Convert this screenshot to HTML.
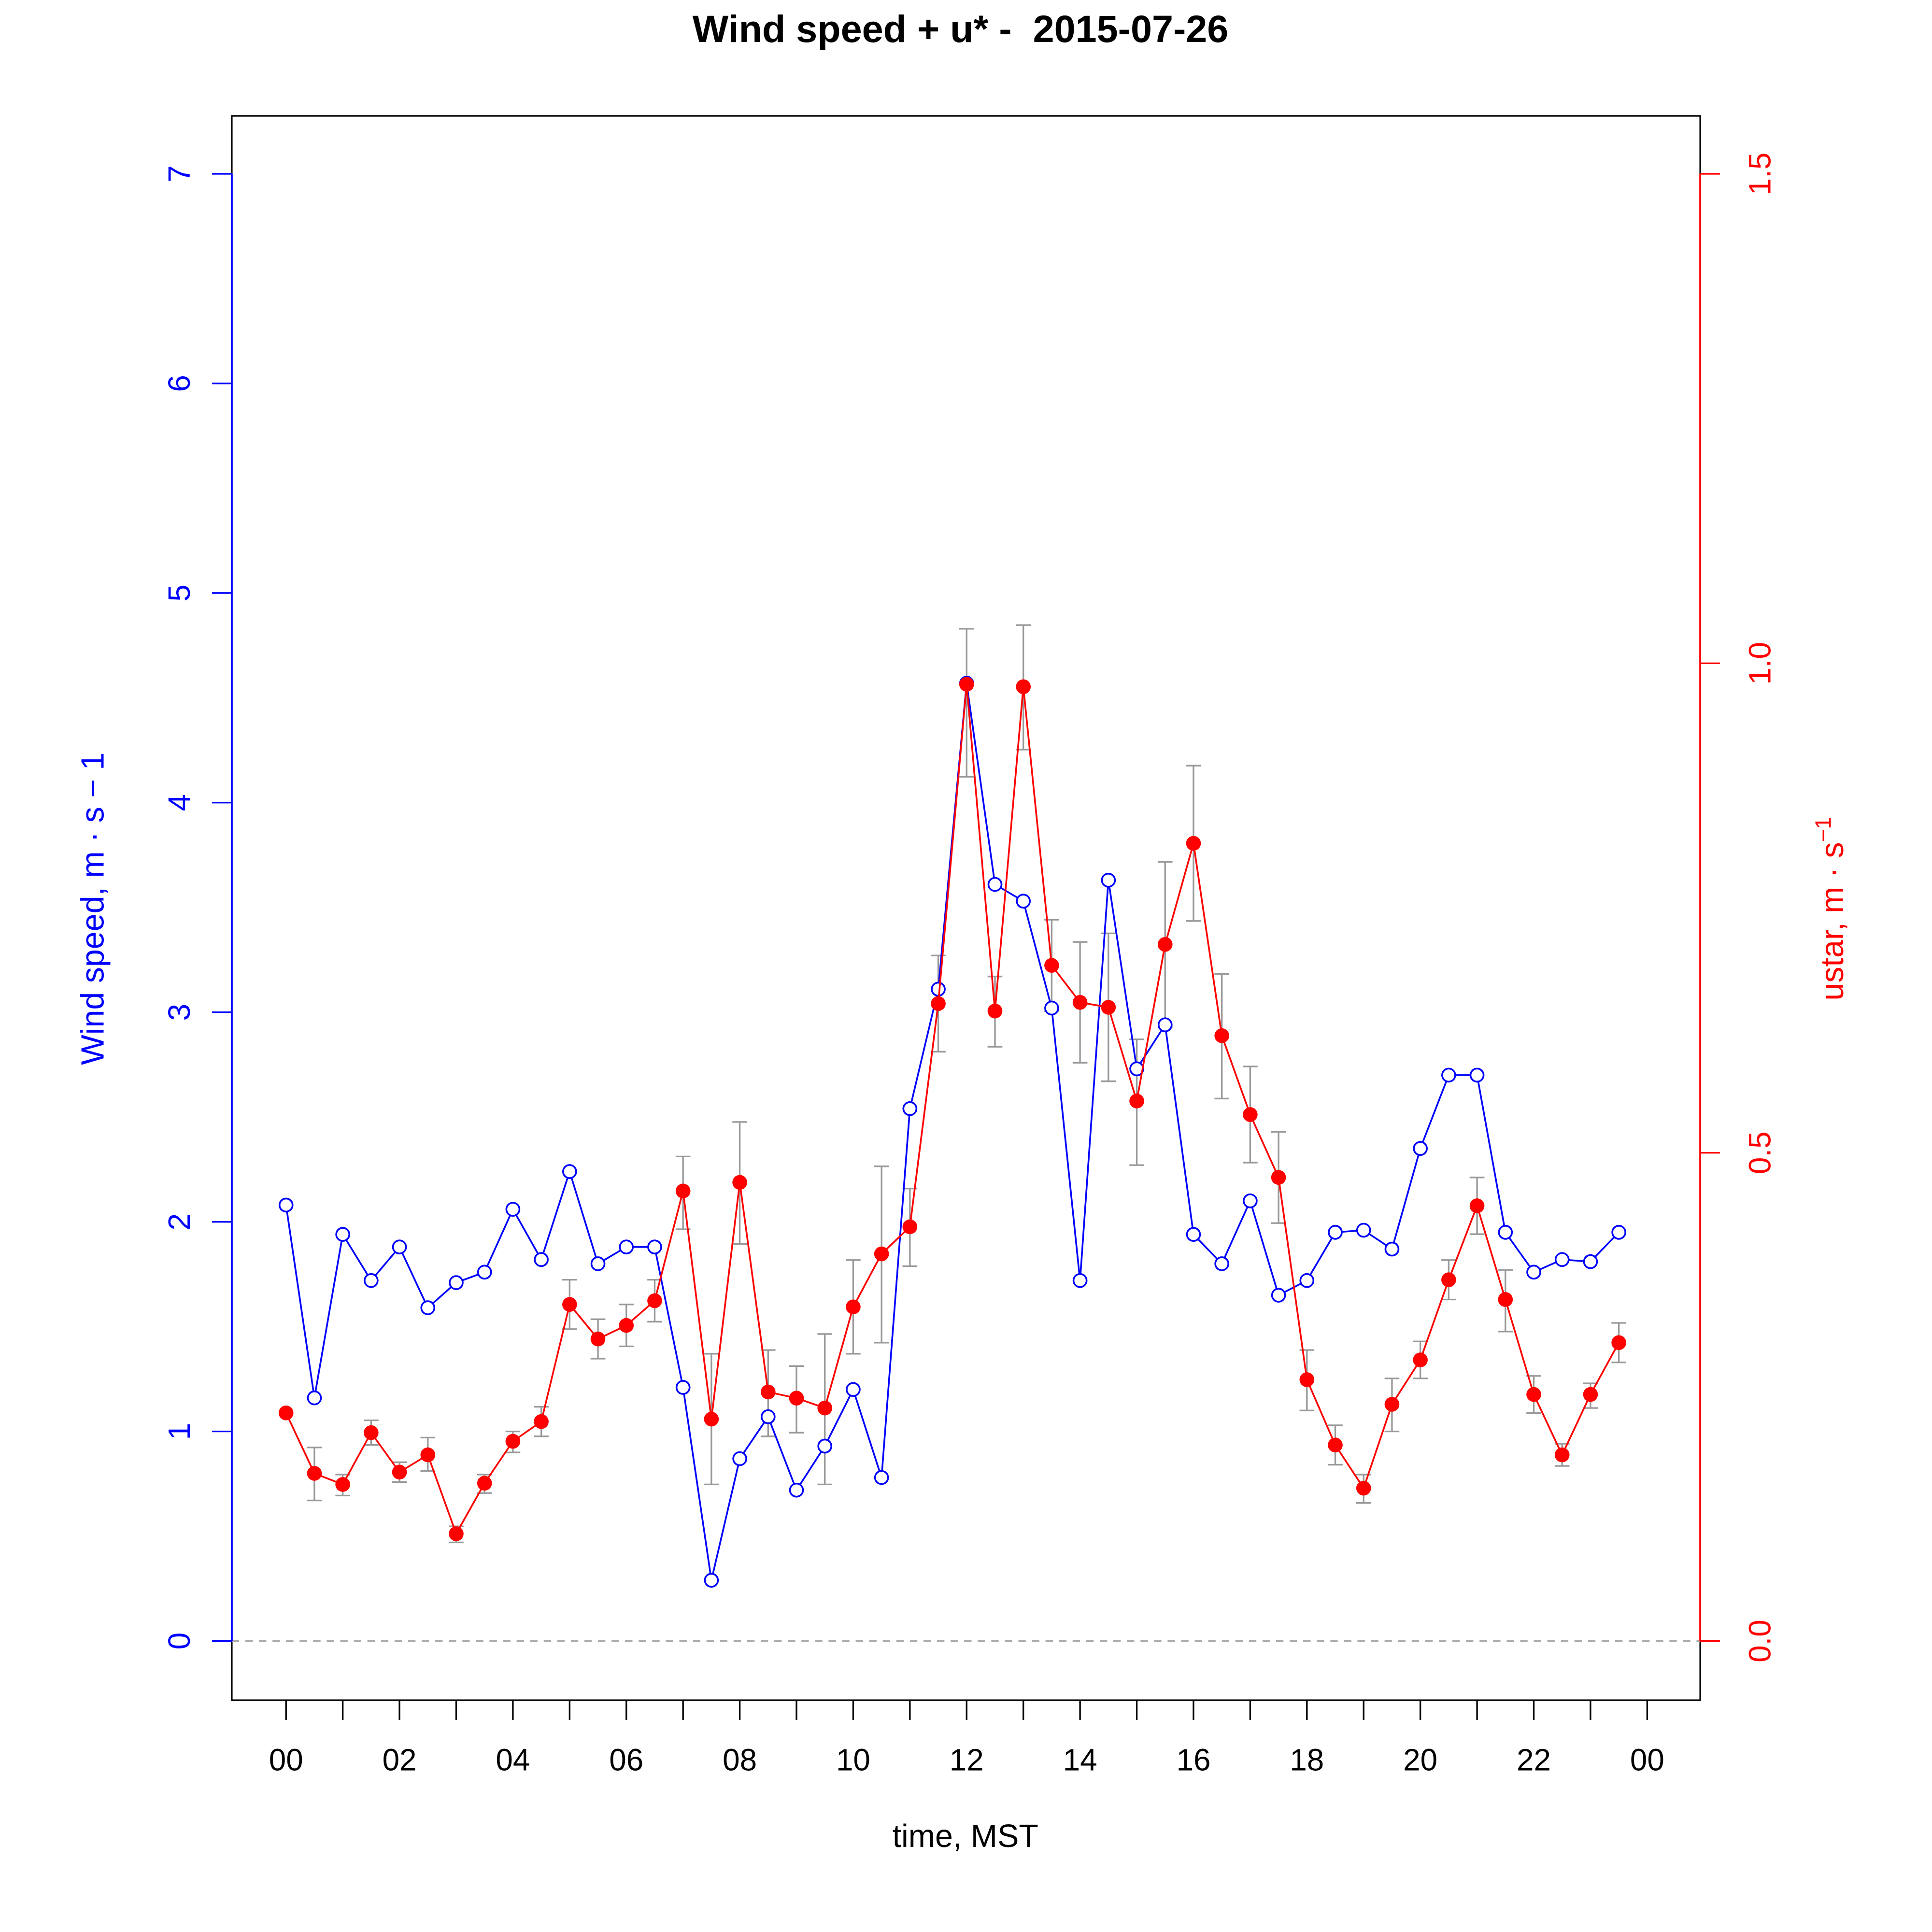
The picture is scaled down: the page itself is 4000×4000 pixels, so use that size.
<!DOCTYPE html>
<html><head><meta charset="utf-8"><style>html,body{margin:0;padding:0;background:#fff}svg{display:block}</style></head>
<body>
<svg id="s" xmlns="http://www.w3.org/2000/svg" width="4000" height="4000" viewBox="0 0 1567 1567" font-family="Liberation Sans, Arial, sans-serif">
<rect width="1567" height="1567" fill="#fff"/>
<text x="779" y="34" font-size="31" font-weight="bold" text-anchor="middle" xml:space="preserve">Wind speed + u* -  2015-07-26</text>
<rect x="188" y="94" width="1191" height="1285" fill="none" stroke="#000" stroke-width="1.3"/>
<line x1="188" y1="1331" x2="1379" y2="1331" stroke="#aaa" stroke-width="1.3" stroke-dasharray="6,5"/>
<g id="axes"></g>
<g id="err" stroke="#999" stroke-width="1.3"></g>
<g id="blue"></g>
<g id="red"></g>
<text x="783" y="1498" font-size="26" text-anchor="middle">time, MST</text>
<text transform="translate(84,737) rotate(-90)" font-size="26" fill="#00f" text-anchor="middle">Wind speed, m · s − 1</text>
<text transform="translate(1495,737) rotate(-90)" font-size="26" fill="#f00" text-anchor="middle">ustar, m · s<tspan dy="-10" font-size="18">−1</tspan></text>
<g font-size="25" fill="#00f" text-anchor="middle">
<text transform="translate(154,1331) rotate(-90)">0</text>
<text transform="translate(154,1161) rotate(-90)">1</text>
<text transform="translate(154,991) rotate(-90)">2</text>
<text transform="translate(154,821) rotate(-90)">3</text>
<text transform="translate(154,651) rotate(-90)">4</text>
<text transform="translate(154,481) rotate(-90)">5</text>
<text transform="translate(154,311) rotate(-90)">6</text>
<text transform="translate(154,141) rotate(-90)">7</text>
</g>
<g font-size="25" fill="#f00" text-anchor="middle">
<text transform="translate(1436,1331) rotate(-90)">0.0</text>
<text transform="translate(1436,935) rotate(-90)">0.5</text>
<text transform="translate(1436,538) rotate(-90)">1.0</text>
<text transform="translate(1436,141) rotate(-90)">1.5</text>
</g>
<g font-size="25" text-anchor="middle">
<text x="232" y="1436">00</text><text x="324" y="1436">02</text><text x="416" y="1436">04</text><text x="508" y="1436">06</text><text x="600" y="1436">08</text><text x="692" y="1436">10</text><text x="784" y="1436">12</text><text x="876" y="1436">14</text><text x="968" y="1436">16</text><text x="1060" y="1436">18</text><text x="1152" y="1436">20</text><text x="1244" y="1436">22</text><text x="1336" y="1436">00</text>
</g>
<script>
var NS="http://www.w3.org/2000/svg";
function el(p,t,a){var e=document.createElementNS(NS,t);for(var k in a)e.setAttribute(k,a[k]);document.getElementById(p).appendChild(e);return e;}
el("axes","line",{x1:188,y1:141,x2:188,y2:1331,stroke:"#00f","stroke-width":1.5});
for(var v=0;v<=7;v++){var y=1331-170*v;el("axes","line",{x1:172,y1:y,x2:188,y2:y,stroke:"#00f","stroke-width":1.3});}
el("axes","line",{x1:1379,y1:141,x2:1379,y2:1331,stroke:"#f00","stroke-width":1.5});
[1331,935,538,141].forEach(function(y){el("axes","line",{x1:1379,y1:y,x2:1395,y2:y,stroke:"#f00","stroke-width":1.3});});
for(var i=0;i<=24;i++){var x=232+46*i;el("axes","line",{x1:x,y1:1379,x2:x,y2:1395,stroke:"#000","stroke-width":1.3});}
var w=[2.08,1.16,1.94,1.72,1.88,1.59,1.71,1.76,2.06,1.82,2.24,1.80,1.88,1.88,1.21,0.29,0.87,1.07,0.72,0.93,1.20,0.78,2.54,3.11,4.57,3.61,3.53,3.02,1.72,3.63,2.73,2.94,1.94,1.80,2.10,1.65,1.72,1.95,1.96,1.87,2.35,2.70,2.70,1.95,1.76,1.82,1.81,1.95];
var u=[1146,1195,1204,1162,1194,1180,1244,1203,1169,1153,1058,1086,1075,1055,966,1151,959,1129,1134,1142,1060,1017,995,814,555,820,557,783,813,817,893,766,684,840,904,955,1119,1172,1207,1139,1103,1038,978,1054,1131,1180,1131,1089];
var e=[null,[1174,1217],[1196,1213],[1152,1172],[1186,1202],[1166,1193],[1238,1251],[1196,1211],[1161,1178],[1141,1165],[1038,1078],[1070,1102],[1058,1092],[1038,1072],[938,997],[1098,1204],[910,1009],[1095,1165],[1108,1162],[1082,1204],[1022,1098],[946,1089],[964,1027],[775,853],[510,630],[792,849],[507,608],[746,820],[764,862],[757,877],[843,945],[699,833],[621,747],[790,891],[865,943],[918,992],[1095,1144],[1156,1188],[1196,1219],[1118,1161],[1088,1118],[1022,1054],[955,1001],[1030,1080],[1116,1146],[1171,1189],[1122,1142],[1073,1105]];
for(var i=0;i<48;i++){if(!e[i])continue;var x=232+23*i;el("err","line",{x1:x,y1:e[i][0],x2:x,y2:e[i][1]});el("err","line",{x1:x-6,y1:e[i][0],x2:x+6,y2:e[i][0]});el("err","line",{x1:x-6,y1:e[i][1],x2:x+6,y2:e[i][1]});}
var pb=w.map(function(v,i){return (232+23*i)+","+(1331-170*v).toFixed(1);}).join(" ");
el("blue","polyline",{points:pb,fill:"none",stroke:"#00f","stroke-width":1.4});
w.forEach(function(v,i){el("blue","circle",{cx:232+23*i,cy:1331-170*v,r:5.3,fill:"#fff",stroke:"#00f","stroke-width":1.4});});
var pr=u.map(function(v,i){return (232+23*i)+","+v;}).join(" ");
el("red","polyline",{points:pr,fill:"none",stroke:"#f00","stroke-width":1.4});
u.forEach(function(v,i){el("red","circle",{cx:232+23*i,cy:v,r:6,fill:"#f00"});});
</script>
</svg>
</body></html>
